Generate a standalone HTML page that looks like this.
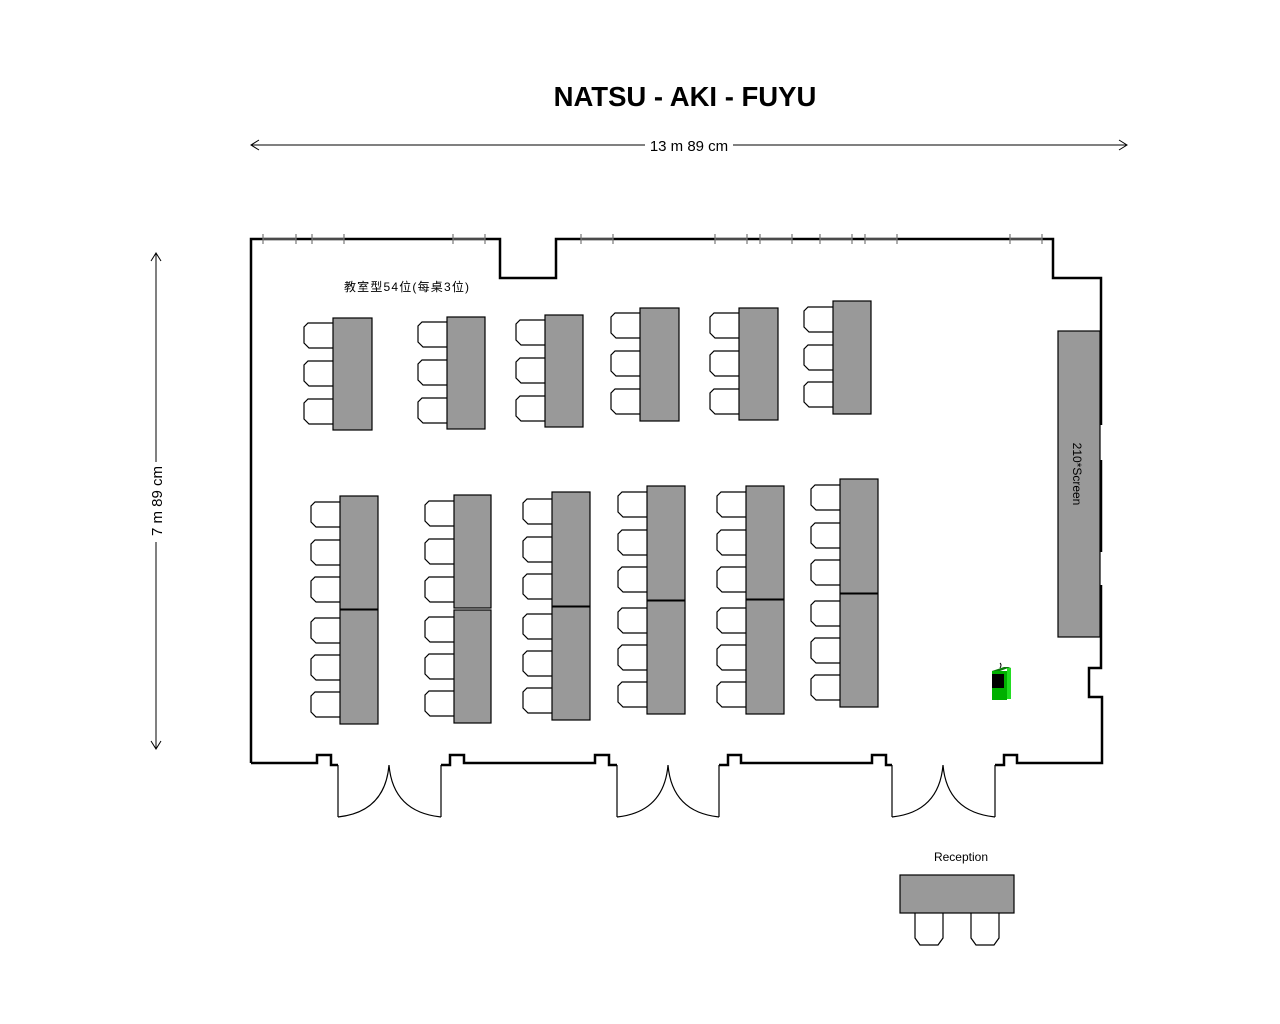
<!DOCTYPE html>
<html><head><meta charset="utf-8"><style>
html,body{margin:0;padding:0;background:#fff;}
svg{display:block;}
text{font-family:"Liberation Sans","Noto Sans CJK SC",sans-serif;}
</style></head><body>
<svg width="1280" height="1024" viewBox="0 0 1280 1024" xmlns="http://www.w3.org/2000/svg">
<defs>
<path id="ch" d="M29,0 H4 L0,4 V20 L5,25 H29" fill="#fff" stroke="#000" stroke-width="1.2"/>
<path id="rc" d="M0,0 V25 L5,32 H23 L28,25 V0" fill="#fff" stroke="#000" stroke-width="1.2"/>
</defs>
<text x="685" y="106" text-anchor="middle" font-size="27.5" font-weight="bold">NATSU - AKI - FUYU</text>
<g stroke="#000" stroke-width="1" fill="none">
<line x1="251" y1="145" x2="645" y2="145"/><line x1="733" y1="145" x2="1127" y2="145"/>
<path d="M259,140 L251,145 L259,150 M1119,140 L1127,145 L1119,150"/>
<line x1="156" y1="253" x2="156" y2="462"/><line x1="156" y1="542" x2="156" y2="749"/>
<path d="M151,261 L156,253 L161,261 M151,741 L156,749 L161,741"/>
</g>
<text x="689" y="151" text-anchor="middle" font-size="15">13 m 89 cm</text>
<text transform="translate(162,501) rotate(-90)" text-anchor="middle" font-size="15">7 m 89 cm</text>
<g fill="none" stroke="#000" stroke-width="2.5">
<path d="M251,763 V239 H500 V278 H556 V239 H1053 V278 H1101 V425"/>
<path d="M1101,460 V552"/>
<path d="M1101,585 V668 H1089 V697 H1102 V763 H1017 V755 H1004 V765 H995"/>
<path d="M251,763 H317 V755 H331 V765 H338"/>
<path d="M441,765 H450 V755 H464 V763 H595 V755 H609 V765 H617"/>
<path d="M719,765 H728 V755 H741 V763 H872 V755 H886 V765 H892"/>
</g>
<g fill="none" stroke="#000" stroke-width="1.2">
<path d="M338,765 V817 M441,765 V817 M617,765 V817 M719,765 V817 M892,765 V817 M995,765 V817"/>
<path d="M338,817 Q385,812 389,765 Q393,812 441,817"/>
<path d="M617,817 Q664,812 668,765 Q672,812 719,817"/>
<path d="M892,817 Q939,812 943,765 Q947,812 995,817"/>
</g>
<g stroke="#777" stroke-width="1.2">
<path d="M263,239 H296 M312,239 H344 M453,239 H485 M581,239 H613 M715,239 H747 M760,239 H792 M820,239 H852 M865,239 H897 M1010,239 H1042"/>
<path d="M263,234 V244 M296,234 V244 M312,234 V244 M344,234 V244 M453,234 V244 M485,234 V244 M581,234 V244 M613,234 V244 M715,234 V244 M747,234 V244 M760,234 V244 M792,234 V244 M820,234 V244 M852,234 V244 M865,234 V244 M897,234 V244 M1010,234 V244 M1042,234 V244"/>
</g>
<text x="344" y="291" font-size="12" textLength="125" lengthAdjust="spacing">教室型54位(每桌3位)</text>
<g>
<use href="#ch" x="304" y="323"/><use href="#ch" x="304" y="361"/><use href="#ch" x="304" y="399"/>
<rect x="333" y="318" width="39" height="112" fill="#999" stroke="#000" stroke-width="1.2"/>
<use href="#ch" x="418" y="322"/><use href="#ch" x="418" y="360"/><use href="#ch" x="418" y="398"/>
<rect x="447" y="317" width="38" height="112" fill="#999" stroke="#000" stroke-width="1.2"/>
<use href="#ch" x="516" y="320"/><use href="#ch" x="516" y="358"/><use href="#ch" x="516" y="396"/>
<rect x="545" y="315" width="38" height="112" fill="#999" stroke="#000" stroke-width="1.2"/>
<use href="#ch" x="611" y="313"/><use href="#ch" x="611" y="351"/><use href="#ch" x="611" y="389"/>
<rect x="640" y="308" width="39" height="113" fill="#999" stroke="#000" stroke-width="1.2"/>
<use href="#ch" x="710" y="313"/><use href="#ch" x="710" y="351"/><use href="#ch" x="710" y="389"/>
<rect x="739" y="308" width="39" height="112" fill="#999" stroke="#000" stroke-width="1.2"/>
<use href="#ch" x="804" y="307"/><use href="#ch" x="804" y="345"/><use href="#ch" x="804" y="382"/>
<rect x="833" y="301" width="38" height="113" fill="#999" stroke="#000" stroke-width="1.2"/>
</g>
<g>
<use href="#ch" x="311" y="502"/><use href="#ch" x="311" y="540"/><use href="#ch" x="311" y="577"/><use href="#ch" x="311" y="618"/><use href="#ch" x="311" y="655"/><use href="#ch" x="311" y="692"/>
<rect x="340" y="496" width="38" height="228" fill="#999" stroke="#000" stroke-width="1.2"/>
<line x1="340" y1="609.5" x2="378" y2="609.5" stroke="#000" stroke-width="2"/>
<use href="#ch" x="425" y="501"/><use href="#ch" x="425" y="539"/><use href="#ch" x="425" y="577"/><use href="#ch" x="425" y="617"/><use href="#ch" x="425" y="654"/><use href="#ch" x="425" y="691"/>
<rect x="454" y="495" width="37" height="113" fill="#999" stroke="#000" stroke-width="1.2"/>
<rect x="454" y="610" width="37" height="113" fill="#999" stroke="#000" stroke-width="1.2"/>
<use href="#ch" x="523" y="499"/><use href="#ch" x="523" y="537"/><use href="#ch" x="523" y="574"/><use href="#ch" x="523" y="614"/><use href="#ch" x="523" y="651"/><use href="#ch" x="523" y="688"/>
<rect x="552" y="492" width="38" height="228" fill="#999" stroke="#000" stroke-width="1.2"/>
<line x1="552" y1="606.5" x2="590" y2="606.5" stroke="#000" stroke-width="2"/>
<use href="#ch" x="618" y="492"/><use href="#ch" x="618" y="530"/><use href="#ch" x="618" y="567"/><use href="#ch" x="618" y="608"/><use href="#ch" x="618" y="645"/><use href="#ch" x="618" y="682"/>
<rect x="647" y="486" width="38" height="228" fill="#999" stroke="#000" stroke-width="1.2"/>
<line x1="647" y1="600.5" x2="685" y2="600.5" stroke="#000" stroke-width="2"/>
<use href="#ch" x="717" y="492"/><use href="#ch" x="717" y="530"/><use href="#ch" x="717" y="567"/><use href="#ch" x="717" y="608"/><use href="#ch" x="717" y="645"/><use href="#ch" x="717" y="682"/>
<rect x="746" y="486" width="38" height="228" fill="#999" stroke="#000" stroke-width="1.2"/>
<line x1="746" y1="599.5" x2="784" y2="599.5" stroke="#000" stroke-width="2"/>
<use href="#ch" x="811" y="485"/><use href="#ch" x="811" y="523"/><use href="#ch" x="811" y="560"/><use href="#ch" x="811" y="601"/><use href="#ch" x="811" y="638"/><use href="#ch" x="811" y="675"/>
<rect x="840" y="479" width="38" height="228" fill="#999" stroke="#000" stroke-width="1.2"/>
<line x1="840" y1="593.5" x2="878" y2="593.5" stroke="#000" stroke-width="2"/>
</g>
<rect x="1058" y="331" width="42" height="306" fill="#999" stroke="#000" stroke-width="1.2"/>
<text transform="translate(1073,474) rotate(90)" text-anchor="middle" font-size="12">210*Screen</text>
<path d="M1000,663 q2,2 0,5" stroke="#000" fill="none"/>
<polygon points="992,671 1004,667 1011,667 1000,671" fill="#0a7a0a"/>
<rect x="992" y="671" width="15" height="29" fill="#00b000"/>
<rect x="1007" y="668" width="4" height="31" fill="#22dd22"/>
<rect x="992" y="674" width="12" height="14" fill="#000"/>
<text x="961" y="861" text-anchor="middle" font-size="12">Reception</text>
<use href="#rc" x="915" y="913"/><use href="#rc" x="971" y="913"/>
<rect x="900" y="875" width="114" height="38" fill="#999" stroke="#000" stroke-width="1.2"/>
</svg>
</body></html>
